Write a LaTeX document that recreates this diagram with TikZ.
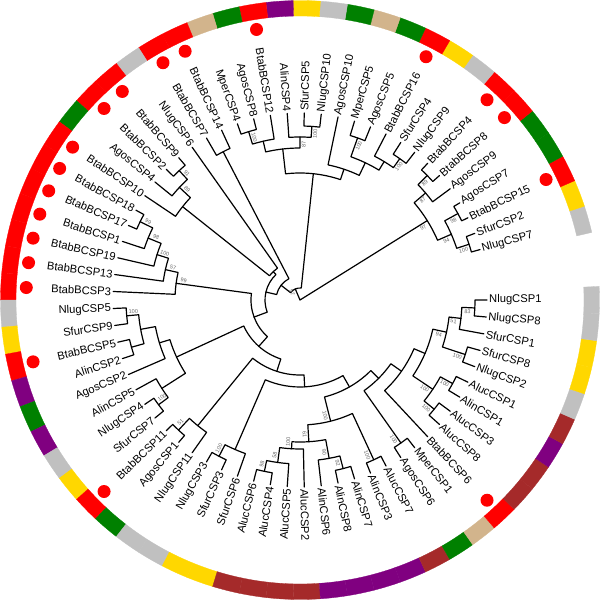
\documentclass[tikz,border=0pt]{standalone}
\usepackage{fontspec}
\setmainfont{Liberation Sans}
\usetikzlibrary{calc}
\definecolor{Btab}{HTML}{FF0000}
\definecolor{Nlug}{HTML}{C0C0C0}
\definecolor{Sfur}{HTML}{FFD700}
\definecolor{Agos}{HTML}{008000}
\definecolor{Alin}{HTML}{800080}
\definecolor{Aluc}{HTML}{A52A2A}
\definecolor{Mper}{HTML}{D2B48C}
\newcommand\setang[2]{\expandafter\xdef\csname ang@#1\endcsname{#2}}
\newcommand\getang[1]{\csname ang@#1\endcsname}
\newcommand\setrad[2]{\expandafter\xdef\csname rad@#1\endcsname{#2}}
\newcommand\getrad[1]{\csname rad@#1\endcsname}
\newcommand\tn[4]{%
  \pgfmathsetmacro\tnA{\getang{#3}}%
  \pgfmathsetmacro\tnB{\getang{#4}}%
  \pgfmathsetmacro\tnM{(\tnA+\tnB)/2}%
  \setang{#1}{\tnM}\setrad{#1}{#2}%
  \coordinate (#1) at (\tnM:#2pt);%
  \draw[br] (#3) -- (\tnA:#2pt) arc[start angle=\tnA, end angle=\tnB, radius=#2pt] -- (#4);%
}
\newcommand\bs[2]{%
  \pgfmathsetmacro\bsA{\getang{#1}-229/\getrad{#1}}%
  \pgfmathsetmacro\bsR{\getrad{#1}-7}%
  \pgfmathtruncatemacro\bsL{(\bsA>90)&&(\bsA<270)}%
  \ifnum\bsL=1 \pgfmathsetmacro\bsRot{\bsA-180}\else\pgfmathsetmacro\bsRot{\bsA}\fi
  \node[bsl, rotate=\bsRot] (b-#1) at (\bsA:\bsR pt) {#2};%
}
\tikzset{
  br/.style={line width=1.2pt, line join=round, line cap=round, black},
  leaf/.style={font=\fontsize{11.2}{11.2}\selectfont, inner sep=0pt},
  bsl/.style={font=\fontsize{5.5}{5.5}\selectfont, text=black!60, inner sep=0pt}
}
\begin{document}
\begin{tikzpicture}
\useasboundingbox (-300pt,-300pt) rectangle (300pt,300pt);
\foreach \i/\nm/\sp in {1/NlugCSP7/Nlug,2/SfurCSP2/Sfur,3/BtabBCSP15/Btab,4/AgosCSP7/Agos,5/AgosCSP9/Agos,6/BtabBCSP8/Btab,7/BtabBCSP4/Btab,8/NlugCSP9/Nlug,9/SfurCSP4/Sfur,10/BtabBCSP16/Btab,11/AgosCSP5/Agos,12/MperCSP5/Mper,13/AgosCSP10/Agos,14/NlugCSP10/Nlug,15/SfurCSP5/Sfur,16/AlinCSP4/Alin,17/BtabBCSP12/Btab,18/AgosCSP8/Agos,19/MperCSP4/Mper,20/BtabBCSP14/Btab,21/BtabBCSP7/Btab,22/NlugCSP6/Nlug,23/BtabBCSP9/Btab,24/BtabBCSP2/Btab,25/AgosCSP4/Agos,26/BtabBCSP10/Btab,27/BtabBCSP18/Btab,28/BtabBCSP17/Btab,29/BtabBCSP1/Btab,30/BtabBCSP19/Btab,31/BtabBCSP13/Btab,32/BtabBCSP3/Btab,33/NlugCSP5/Nlug,34/SfurCSP9/Sfur,35/BtabBCSP5/Btab,36/AlinCSP2/Alin,37/AgosCSP2/Agos,38/AlinCSP5/Alin,39/NlugCSP4/Nlug,40/SfurCSP7/Sfur,41/BtabBCSP11/Btab,42/AgosCSP1/Agos,43/NlugCSP11/Nlug,44/NlugCSP3/Nlug,45/SfurCSP3/Sfur,46/SfurCSP6/Sfur,47/AlucCSP6/Aluc,48/AlucCSP4/Aluc,49/AlucCSP5/Aluc,50/AlucCSP2/Aluc,51/AlinCSP6/Alin,52/AlinCSP8/Alin,53/AlinCSP7/Alin,54/AlinCSP3/Alin,55/AlucCSP7/Aluc,56/AgosCSP6/Agos,57/MperCSP1/Mper,58/BtabBCSP6/Btab,59/AlucCSP8/Aluc,60/AlucCSP3/Aluc,61/AlinCSP1/Alin,62/AlucCSP1/Aluc,63/NlugCSP2/Nlug,64/SfurCSP8/Sfur,65/SfurCSP1/Sfur,66/NlugCSP8/Nlug,67/NlugCSP1/Nlug}{
  \pgfmathsetmacro\a{180+(\i-32.5)*360/69}
  \pgfmathsetmacro\aa{\a-180/69}
  \pgfmathsetmacro\ab{\a+180/69}
  \setang{L\i}{\a}
  \coordinate (L\i) at (\a:187pt);
  \filldraw[fill=\sp, draw=\sp, line width=0.3pt] (\aa:284pt) arc[start angle=\aa, end angle=\ab, radius=284pt] -- (\ab:299.5pt) arc[start angle=\ab, end angle=\aa, radius=299.5pt] -- cycle;
  \pgfmathtruncatemacro\lft{(\a>90)&&(\a<270)}
  \ifnum\lft=1
    \node[leaf, anchor=east, rotate=\a-180] (t\i) at (\a:189pt) {\nm};
  \else
    \node[leaf, anchor=west, rotate=\a] (t\i) at (\a:189pt) {\nm};
  \fi
}
\foreach \i in {3,6,7,10,17,20,21,23,24,26,27,28,29,30,31,32,35,41,58}{
  \pgfmathsetmacro\a{180+(\i-32.5)*360/69}
  \fill[Btab] (\a:274pt) circle[radius=6.5pt];
}
% clade D
\tn{n12}{178}{L1}{L2}
\tn{n34}{180}{L3}{L4}
\tn{nA}{165}{n34}{n12}
\tn{n67}{178}{L6}{L7}
\tn{nB}{165}{L5}{n67}
\tn{nD}{150}{nA}{nB}
% clade C
\tn{n89}{173}{L8}{L9}
\tn{n810}{162}{L10}{n89}
\tn{n1112}{172}{L11}{L12}
\tn{nCb}{152}{n810}{n1112}
\tn{nCa}{138}{nCb}{L13}
\tn{n1415}{174}{L14}{L15}
\tn{n1416}{163}{n1415}{L16}
\tn{n1819}{176}{L18}{L19}
\tn{n1719}{163}{L17}{n1819}
\tn{nCc}{152}{n1416}{n1719}
\tn{nC}{127}{nCa}{nCc}
\tn{n2021}{167}{L20}{L21}
\tn{n2324}{177}{L23}{L24}
\tn{n2325}{165}{n2324}{L25}
\tn{nZ}{150}{n2325}{L26}
\tn{nU}{39}{L22}{nZ}
\tn{n2728}{178}{L27}{L28}
\tn{n2729}{164}{n2728}{L29}
\tn{n2730}{150}{n2729}{L30}
\tn{n2731}{138}{n2730}{L31}
\tn{nE}{125}{n2731}{L32}
\tn{n3334}{174}{L33}{L34}
\tn{n3536}{175}{L35}{L36}
\tn{n3336}{162}{n3334}{n3536}
\tn{nF}{147}{n3336}{L37}
\tn{n3940}{176}{L39}{L40}
\tn{nG}{164}{L38}{n3940}
\tn{nFG}{136}{nF}{nG}
\tn{n4142}{178}{L41}{L42}
\tn{nH}{162}{n4142}{L43}
\tn{n4445}{176}{L44}{L45}
\tn{nI}{163}{n4445}{L46}
\tn{n4748}{175}{L47}{L48}
\tn{n4749}{164}{n4748}{L49}
\tn{n4750}{149}{n4749}{L50}
\tn{n5253}{174}{L52}{L53}
\tn{n5153}{161}{L51}{n5253}
\tn{n4753}{142}{n4750}{n5153}
\tn{n5455}{176}{L54}{L55}
\tn{nJ}{125}{n4753}{n5455}
\tn{nK}{175}{L56}{L57}
\tn{n5960}{173}{L59}{L60}
\tn{n6162}{174}{L61}{L62}
\tn{nL}{160}{n5960}{n6162}
\tn{n6364}{174}{L63}{L64}
\tn{n6667}{175}{L66}{L67}
\tn{n6567}{162}{L65}{n6667}
\tn{nM}{150}{n6364}{n6567}
\tn{nLM}{136}{nL}{nM}
\tn{Y7}{124}{L58}{nLM}
\tn{Y6}{111}{nK}{Y7}
\tn{Y5}{100}{nJ}{Y6}
\tn{Y4}{87}{nI}{Y5}
\tn{Y3}{75}{nH}{Y4}
\tn{Y2}{62}{nFG}{Y3}
\tn{Y1}{49}{nE}{Y2}
\tn{W}{35}{nU}{Y1}
\tn{T}{24}{n2021}{W}
\tn{S}{12}{nC}{T}
\coordinate (R) at (0,0);
\draw[br] (nD) -- (R) -- (S);
\node[bsl, rotate=-67] (b-S) at (-8pt,7pt) {97};
\bs{n12}{100}\bs{n34}{98}\bs{nA}{94}\bs{n67}{89}\bs{nB}{87}\bs{nD}{97}
\bs{n89}{100}\bs{n1112}{100}\bs{n1415}{100}\bs{n1416}{87}\bs{n1819}{100}
\bs{n2324}{91}\bs{n2325}{89}
\bs{n2728}{99}\bs{n2729}{98}\bs{n2730}{100}\bs{n2731}{57}\bs{nE}{99}
\bs{n3334}{100}\bs{n3940}{100}\bs{n4142}{51}\bs{n4445}{100}
\bs{n4748}{98}\bs{n4749}{58}\bs{n4750}{100}\bs{n5253}{92}\bs{n5153}{90}\bs{n4753}{61}\bs{n5455}{100}\bs{nJ}{100}\bs{nK}{100}
\bs{n5960}{100}\bs{n6162}{100}\bs{nL}{100}
\bs{n6364}{100}\bs{n6667}{83}\bs{n6567}{51}\bs{nM}{94}
\end{tikzpicture}
\end{document}
